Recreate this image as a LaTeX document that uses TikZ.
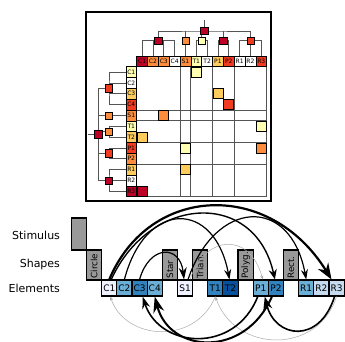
\documentclass[tikz,border=0pt]{standalone}
\usepackage{fontspec}
\setmainfont{DejaVu Sans}
\usetikzlibrary{arrows.meta,backgrounds}
\definecolor{ylA}{HTML}{FFFFB2}
\definecolor{ylB}{HTML}{FECC5C}
\definecolor{ylC}{HTML}{FD8D3C}
\definecolor{ylD}{HTML}{F03B20}
\definecolor{ylE}{HTML}{BD0026}
\definecolor{bA}{HTML}{EFF3FF}
\definecolor{bB}{HTML}{C6DBEF}
\definecolor{bC}{HTML}{6BAED6}
\definecolor{bD}{HTML}{3182BD}
\definecolor{bE}{HTML}{08519C}
\definecolor{boxgray}{HTML}{999999}
\definecolor{treegray}{HTML}{555555}
\definecolor{arcgray}{HTML}{AAAAAA}
% matrix origin, cell size; element row origin, slot width
\def\mX{136.7}\def\mY{66.7}\def\cS{10.83}
\def\eX{101.7}\def\eW{15.15}

\begin{document}
\begin{tikzpicture}[x=1pt,y=-1pt,
  hcell/.style={draw,line width=0.6,fill=#1,minimum size=\cS,inner sep=0,font=\fontsize{6}{7}\selectfont},
  knot/.style={draw,line width=0.5,fill=#1,minimum size=7.3,inner sep=0},
  cell/.style={draw,line width=0.8,fill=#1,minimum size=10,inner sep=0},
  tree/.style={treegray,line width=0.85},
  elem/.style={draw,line width=1.1,fill=#1,minimum width=\eW,minimum height=16,inner sep=0,font=\fontsize{9}{10}\selectfont},
  shapebox/.style={draw,line width=1.3,fill=boxgray,minimum width=\eW,minimum height=#1,inner sep=0},
  bond/.style={line width=#1}]
\useasboundingbox (0,0) rectangle (345,342);

% co-occurrence matrix
\draw[line width=1.3] (86,12) rectangle (271,201);
\foreach \n/\f [count=\i] in %
{C1/ylE,C2/ylC,C3/ylC,C4/white,S1/ylC,T1/ylA,T2/white,P1/ylB,P2/ylD,R1/white,R2/white,R3/ylD} {
   \node[hcell=\f] (col-\n) at (\mX+\i*\cS-\cS/2,\mY-\cS/2) {\n};
}
\foreach \n/\f [count=\i] in %
{C1/ylA,C2/white,C3/ylB,C4/ylD,S1/ylC,T1/ylA,T2/ylB,P1/ylD,P2/ylC,R1/ylB,R2/white,R3/ylE} {
   \node[hcell=\f] (row-\n) at (\mX-\cS/2,\mY+\i*\cS-\cS/2) {\n};
}
\foreach \k in {4,5,7,9,12} {
   \draw[tree] (\mX+\k*\cS,\mY) -- ++(0,12*\cS);
   \draw[tree] (\mX,\mY+\k*\cS) -- ++(12*\cS,0);
}
\foreach \c/\r/\f in %
{6/1/ylA,8/3/ylB,9/4/ylD,3/5/ylC,12/6/ylA,1/7/ylB,5/8/ylA,12/8/ylC,5/10/ylB,1/12/ylE} {
   \node[cell=\f] (m-\c-\r) at (\mX+\c*\cS-\cS/2,\mY+\r*\cS-\cS/2) {};
}

% dendrograms
\foreach \g/\a/\f in {C/2/ylE,S/4.5/ylC,T/6/ylA,P/8/ylE,R/10.5/ylD} {
   \node[knot=\f] (top-\g) at (\mX+\a*\cS,40.7) {};
}
\node[knot=ylE] (top-root) at (\mX+6.25*\cS,31) {};
\coordinate (top-end) at (\mX+6.25*\cS,20);
\foreach \g/\a/\f in {C/2/ylD,S/4.5/ylC,T/6/ylC,P/8/ylD,R/10.5/ylE} {
   \node[knot=\f] (left-\g) at (109,\mY+\a*\cS) {};
}
\node[knot=ylE] (left-root) at (98.3,\mY+6.25*\cS) {};
\coordinate (left-end) at (88.3,\mY+6.25*\cS);
\begin{scope}[on background layer]
\foreach \g/\a/\b in {C/C1/C4,T/T1/T2,P/P1/P2,R/R1/R3} {
   \draw[tree] (col-\a.north) |- (top-\g.center) -| (col-\b.north);
   \draw[tree] (row-\a.west) -| (left-\g.center) |- (row-\b.west);
}
\foreach \n/\g in {C2/C,C3/C,S1/S,R2/R} {
   \draw[tree] (col-\n.north) -- (col-\n.north |- top-\g.center);
   \draw[tree] (row-\n.west) -- (row-\n.west -| left-\g.center);
}
\draw[tree] (top-C.center) |- (top-root.center) -| (top-R.center);
\draw[tree] (left-C.center) -| (left-root.center) |- (left-R.center);
\foreach \g in {S,T,P} {
   \draw[tree] (top-\g.center) -- (top-\g.center |- top-root.center);
   \draw[tree] (left-\g.center) -- (left-\g.center -| left-root.center);
}
\draw[tree] (top-root.center) -- (top-end);
\draw[tree] (left-root.center) -- (left-end);
\end{scope}

% stimulus / shapes / elements
\node[anchor=east,font=\fontsize{11}{13}\selectfont] (lab-stim) at (63.5,235) {Stimulus};
\node[anchor=east,font=\fontsize{11}{13}\selectfont] (lab-shape) at (63.5,264) {Shapes};
\node[anchor=east,font=\fontsize{11}{13}\selectfont] (lab-elem) at (63.5,288.5) {Elements};
\node[shapebox=32] (stim) at (\eX-1.5*\eW,234) {};
\foreach \n/\k/\t in {Circle/-1/Circle,Star/4/Star,Tri/6/Trian.,Poly/9/Polyg.,Rect/12/Rect.} {
   \node[shapebox=30] (sh-\n) at (\eX+\k*\eW+\eW/2,265) {};
   \node[rotate=90,anchor=west,inner sep=0,font=\fontsize{8.8}{9}\selectfont] (txt-\n) at ([yshift=2]sh-\n.south) {\t};
}
\foreach \n/\k/\f in %
{C1/0/bA,C2/1/bC,C3/2/bD,C4/3/bC,S1/5/bA,T1/7/bD,T2/8/bE,P1/10/bC,P2/11/bD,R1/13/bC,R2/14/bB,R3/15/bB} {
   \node[elem=\f] (el-\n) at (\eX+\k*\eW+\eW/2,288) {\n};
}

% arcs above
\draw[bond=2.2,-{Stealth[length=16pt,width=12pt]}] (el-C1.north) .. controls +(40,-95) and +(-62,-100) .. ([xshift=-5]el-R3.north);
\draw[bond=1.4,-{Stealth[length=10pt,width=8pt]}] ([xshift=2]el-C1.north) .. controls +(39,-85) and +(-20,-90) .. ([xshift=-1]el-P2.north);
\draw[bond=1.2,-{Stealth[length=10pt,width=7pt]}] (el-C2.north) .. controls +(21,-80) and +(-15,-80) .. ([xshift=-1]el-T2.north);
\draw[bond=1.2,-{Stealth[length=12pt,width=8pt]}] (el-C3.north) .. controls +(10,-35) and +(-4,-35) .. ([xshift=-1]el-S1.north);
\draw[bond=1.2,-{Stealth[length=10pt,width=7pt]}] ([xshift=3]el-S1.north) .. controls +(27,-80) and +(-16,-85) .. (el-R1.north);
\draw[bond=0.5,arcgray,-{Stealth[length=4pt,width=3pt]}] ([xshift=5]el-S1.north) .. controls +(15,-45) and +(-13,-48) .. ([xshift=2]el-P1.north);
% arcs below
\draw[bond=0.5,arcgray,-{Stealth[length=4pt,width=3pt]}] (el-T1.south) .. controls +(-20,49) and +(15,44) .. ([xshift=1]el-C1.south);
\draw[bond=0.5,arcgray,-{Stealth[length=4pt,width=3pt]}] (el-R3.south) .. controls +(-18,58) and +(20,57) .. (el-T1.south);
\draw[bond=1.6,-{Stealth[length=12pt,width=8pt]}] ([xshift=-3]el-P1.south) .. controls +(-23,58) and +(17,52) .. ([xshift=3]el-C3.south);
\draw[bond=2,-{Stealth[length=16pt,width=11pt]}] ([xshift=-4]el-P2.south) .. controls +(-27,62) and +(15,57) .. (el-C4.south);
\draw[bond=1.6,-{Stealth[length=13pt,width=9pt]}] ([xshift=-2]el-R3.south) .. controls +(-15,48) and +(10,42) .. ([xshift=4]el-P1.south);
\end{tikzpicture}
\end{document}
